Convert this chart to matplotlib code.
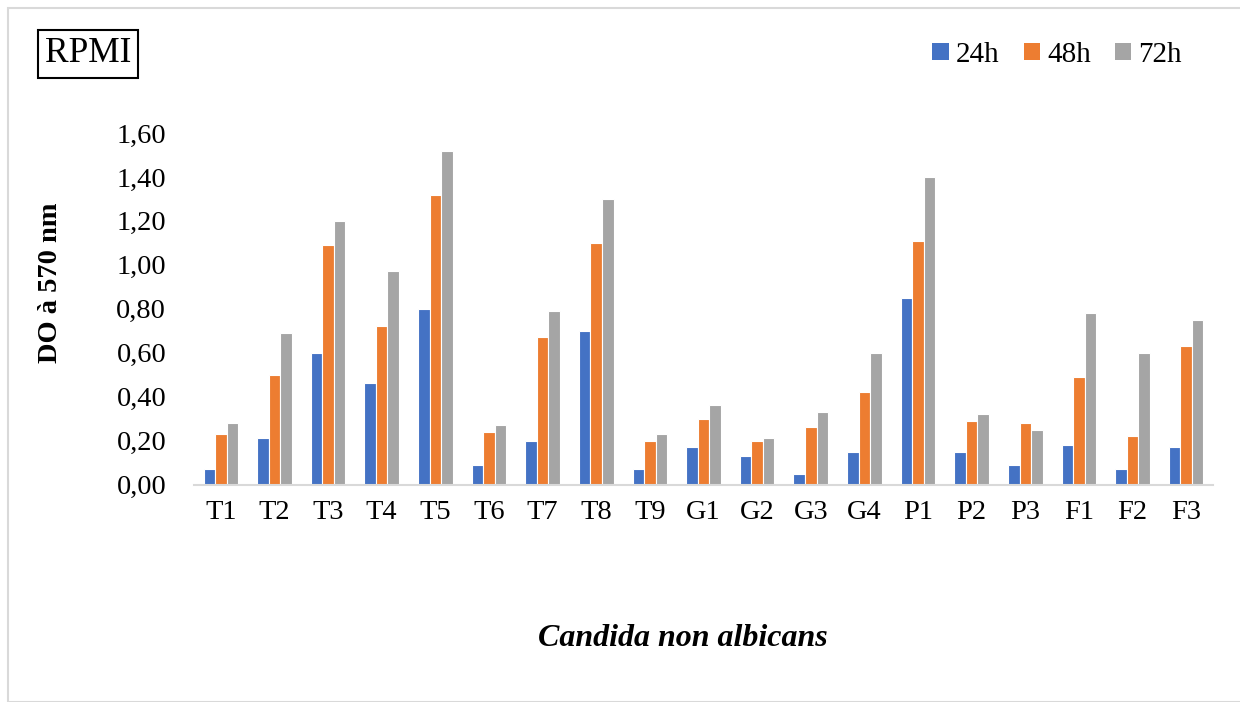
import matplotlib
matplotlib.use("Agg")
import matplotlib.pyplot as plt
import numpy as np
from matplotlib.patches import Rectangle
from matplotlib.ticker import FuncFormatter

categories = ["T1", "T2", "T3", "T4", "T5", "T6", "T7", "T8", "T9",
              "G1", "G2", "G3", "G4", "P1", "P2", "P3", "F1", "F2", "F3"]
v24 = [0.07, 0.21, 0.60, 0.46, 0.80, 0.09, 0.20, 0.70, 0.07,
       0.17, 0.13, 0.05, 0.15, 0.85, 0.15, 0.09, 0.18, 0.07, 0.17]
v48 = [0.23, 0.50, 1.09, 0.72, 1.32, 0.24, 0.67, 1.10, 0.20,
       0.30, 0.20, 0.26, 0.42, 1.11, 0.29, 0.28, 0.49, 0.22, 0.63]
v72 = [0.28, 0.69, 1.20, 0.97, 1.52, 0.27, 0.79, 1.30, 0.23,
       0.36, 0.21, 0.33, 0.60, 1.40, 0.32, 0.25, 0.78, 0.60, 0.75]
series_names = ["24h", "48h", "72h"]
colors = ["#4472C4", "#ED7D31", "#A5A5A5"]

plt.rcParams['font.family'] = ['Liberation Serif', 'DejaVu Serif']

fig = plt.figure(figsize=(12.4, 7.02), dpi=100)
fig.patches.append(Rectangle((8/1240, 0.0), 1.0, 1 - 8/702, transform=fig.transFigure,
                             fill=False, edgecolor="#D9D9D9", linewidth=1.5))

ax = fig.add_axes([194/1240, 1 - 484.5/702, 1019/1240, (484.5 - 133)/702])
x = np.arange(len(categories))
w = 0.215
for i, (vals, name, c) in enumerate(zip([v24, v48, v72], series_names, colors)):
    ax.bar(x + (i - 1) * w, vals, width=w, color=c, edgecolor="white", linewidth=0.8, label=name)

ax.set_xlim(-0.5, len(categories) - 0.5)
ax.set_ylim(0, 1.6)
ax.set_yticks(np.arange(0, 1.61, 0.2))
ax.yaxis.set_major_formatter(FuncFormatter(lambda v, p: f"{v:.2f}".replace(".", ",")))
ax.set_xticks(x)
ax.set_xticklabels(categories)
for s in ["top", "right", "left"]:
    ax.spines[s].set_visible(False)
ax.spines["bottom"].set_color("#D9D9D9")
ax.spines["bottom"].set_linewidth(1.5)
ax.tick_params(axis="both", length=0, labelsize=20.5, colors="black")
ax.tick_params(axis="y", pad=20)
ax.tick_params(axis="x", pad=11)

fig.text(51/1240, 1 - 283/702, "DO à 570 nm", rotation=90, ha="center", va="center",
         fontsize=20.5, fontweight="bold")
fig.text(683/1240, 1 - 638/702, "Candida non albicans", ha="center", va="center",
         fontsize=23, fontweight="bold", fontstyle="italic")

fig.text(88/1240, 1 - 54/702, "RPMI", ha="center", va="center", fontsize=25.5,
         bbox=dict(boxstyle="square,pad=0.2", facecolor="white", edgecolor="black", linewidth=1.5))

handles, labels = ax.get_legend_handles_labels()
leg = fig.legend(handles, labels, loc="center right", bbox_to_anchor=(1208/1240, 1 - 55/702), ncol=3,
                 frameon=False, fontsize=21, handlelength=0.55, handleheight=0.5,
                 handletextpad=0.25, columnspacing=0.83)
for h in leg.legend_handles:
    h.set_edgecolor("none")

fig.savefig("out.png", dpi=100)
